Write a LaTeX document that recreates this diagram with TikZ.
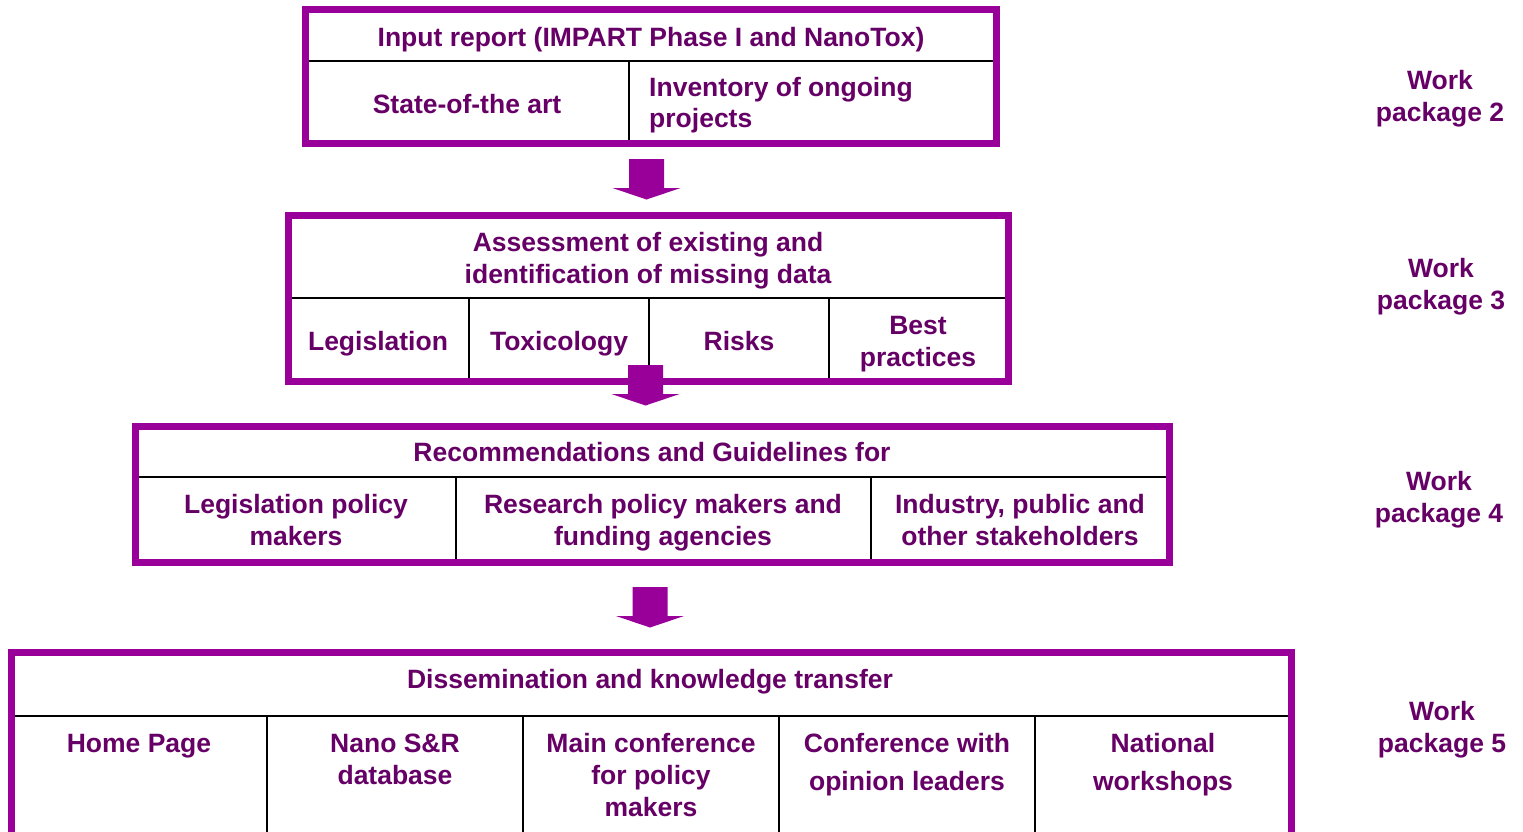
\documentclass[tikz,border=0pt]{standalone}
\usepackage{fontspec}
\setmainfont{Liberation Sans}
\definecolor{frm}{HTML}{990099}
\definecolor{txt}{HTML}{660066}
\begin{document}
\begin{tikzpicture}[x=1pt,y=-1pt,
  frame/.style={draw=frm,line width=7pt,inner sep=0pt,outer sep=0pt,fill=white},
  sep/.style={draw=black,line width=2pt},
  lbl/.style={text=txt,font=\bfseries\fontsize{26.5}{32}\selectfont,align=center,inner sep=0pt,anchor=base},
  lbll/.style={lbl,align=left,anchor=base west},
  blockarrow/.pic={\fill[frm] (-17.5,0) -- (17.5,0) -- (17.5,29) -- (34,29) -- (0,40.5) -- (-34,29) -- (-17.5,29) -- cycle;}
]
\useasboundingbox (0,0) rectangle (1523,831);
\clip (0,0) rectangle (1523,831);
\fill[white] (0,0) rectangle (1523,831);

% ---------- Box 1 ----------
\node[frame,minimum width=691pt,minimum height=133.5pt] (box1) at (651,76.25) {};
\coordinate (b1l) at (305,60.5); \coordinate (b1r) at (997,60.5);
\coordinate (b1d1t) at (629,60.5); \coordinate (b1d1b) at (629,143);
\draw[sep] (b1l) -- (b1r);
\draw[sep] (b1d1t) -- (b1d1b);
\draw[frm,line width=7pt] (box1.north west) rectangle (box1.south east);
\node[lbl] (t1) at (651,46) {Input report (IMPART Phase I and NanoTox)};
\node[lbl] (t1a) at (467,113) {State-of-the art};
\node[lbll] (t1b) at (649,127) {Inventory of ongoing\\[-1pt]projects};

% ---------- Box 2 ----------
\node[frame,minimum width=720pt,minimum height=165.5pt] (box2) at (648.5,298.25) {};
\coordinate (b2l) at (288,298); \coordinate (b2r) at (1009,298);
\draw[sep] (b2l) -- (b2r);
\foreach \x in {469,649,829} {\draw[sep] (\x,298) -- (\x,381);}
\draw[frm,line width=7pt] (box2.north west) rectangle (box2.south east);
\node[lbl] (t2) at (648,283) {Assessment of existing and\\identification of missing data};
\node[lbl] (t2a) at (378,350) {Legislation};
\node[lbl] (t2b) at (559,350) {Toxicology};
\node[lbl] (t2c) at (739,350) {Risks};
\node[lbl] (t2d) at (918,366) {Best\\practices};

% ---------- Box 3 ----------
\node[frame,minimum width=1034pt,minimum height=135.5pt] (box3) at (652.5,494.25) {};
\coordinate (b3l) at (135,477); \coordinate (b3r) at (1170,477);
\draw[sep] (b3l) -- (b3r);
\foreach \x in {456,871} {\draw[sep] (\x,477) -- (\x,562);}
\draw[frm,line width=7pt] (box3.north west) rectangle (box3.south east);
\node[lbl] (t3) at (652,461) {Recommendations and Guidelines for};
\node[lbl] (t3a) at (296,545) {Legislation policy\\makers};
\node[lbl] (t3b) at (663,545) {Research policy makers and\\funding agencies};
\node[lbl] (t3c) at (1020,545) {Industry, public and\\other stakeholders};

% ---------- Box 4 ----------
\node[frame,minimum width=1280pt,minimum height=250pt] (box4) at (651,777.5) {};
\coordinate (b4l) at (11,716); \coordinate (b4r) at (1291,716);
\draw[sep] (b4l) -- (b4r);
\foreach \x in {267,523,779,1035} {\draw[sep] (\x,716) -- (\x,900);}
\draw[frm,line width=7pt] (box4.north west) rectangle (box4.south east);
\node[lbl] (t4) at (650,688) {Dissemination and knowledge transfer};
\node[lbl] (t4a) at (139,752) {Home Page};
\node[lbl] (t4b) at (395,784) {Nano S\&R\\database};
\node[lbl] (t4c) at (651,816) {Main conference\\for policy\\makers};
\node[lbl] (t4d) at (907,790) {Conference with\\[6pt]opinion leaders};
\node[lbl] (t4e) at (1163,790) {National\\[6pt]workshops};

% ---------- Arrows ----------
\coordinate (a1) at (646.5,159);
\coordinate (a2) at (645.5,365);
\coordinate (a3) at (650,587);
\pic at (a1) {blockarrow};
\pic at (a2) {blockarrow};
\pic at (a3) {blockarrow};

% ---------- Work package labels ----------
\node[lbl] (wp2) at (1440,121) {Work\\package 2};
\node[lbl] (wp3) at (1441,309) {Work\\package 3};
\node[lbl] (wp4) at (1439,522) {Work\\package 4};
\node[lbl] (wp5) at (1442,752) {Work\\package 5};
\end{tikzpicture}
\end{document}
